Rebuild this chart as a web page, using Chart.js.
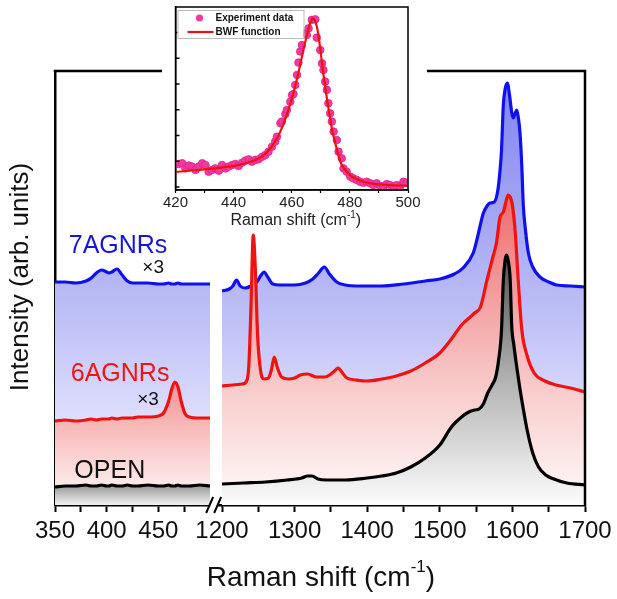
<!DOCTYPE html>
<html>
<head>
<meta charset="utf-8">
<title>Raman spectra of AGNRs</title>
<script src="https://cdn.jsdelivr.net/npm/chart.js@4.4.0/dist/chart.umd.min.js"></script>
<style>
  html, body { margin: 0; padding: 0; background: #fff; }
  #wrap { position: relative; width: 617px; height: 599px; overflow: hidden; }
  #main { position: absolute; left: 0; top: 0; }
  #inset { position: absolute; left: 162px; top: 0; background: #fff; }
</style>
</head>
<body>
<div id="wrap">
  <canvas id="main" width="617" height="599"></canvas>
  <canvas id="inset" width="265" height="232"></canvas>
</div>
<script>
'use strict';

// ---- main panel, low-frequency part (x3) ----
var leftShift = [350, 360, 370, 380, 385, 390, 395, 400, 402, 405, 410, 415, 420, 425, 430, 440, 450, 455, 460, 463, 466, 469, 472, 476, 480, 490, 500];
var blueLeft  = [223, 223, 222, 224, 227, 232, 235, 233, 232, 233, 236, 230, 224, 222, 222, 222, 221, 221, 222, 221, 221, 222, 221, 221, 221, 221, 221];
var redLeft   = [84, 85, 84, 85, 86, 85, 86, 86, 86, 87, 86, 87, 87, 87, 88, 88, 89, 92, 104, 116, 123, 118, 104, 91, 88, 87, 87];
var blackLeft = [18, 19, 19, 20, 19, 19, 20, 19, 19, 20, 19, 19, 20, 19, 19, 20, 19, 19, 20, 19, 19, 20, 19, 19, 19, 20, 19];

// ---- main panel, high-frequency part ----
var blueShiftR = [1200, 1210, 1215, 1220, 1225, 1232, 1240, 1248, 1254, 1258, 1263, 1270, 1280, 1300, 1315, 1325, 1333, 1341, 1348, 1358, 1370, 1390, 1420, 1450, 1480, 1500, 1520, 1532, 1546, 1552, 1560, 1565, 1569, 1575, 1580, 1583, 1585, 1587.5, 1590, 1593, 1596, 1599, 1601, 1604, 1606, 1608, 1610.5, 1613, 1615, 1618, 1622, 1628, 1638, 1650, 1661, 1680, 1700];
var blueRight  = [214, 216, 219, 225, 219, 217, 219, 223, 230, 233, 228, 221, 220, 220, 222, 226, 232, 238, 231, 223, 220, 219, 219, 221, 224, 226, 231, 237, 252, 268, 292, 299, 302, 303, 315, 335, 355, 400, 416, 422, 410, 393, 387, 392, 395, 388, 372, 338, 300, 275, 252, 238, 228, 223, 220, 219, 218];

var redShiftR = [1200, 1215, 1228, 1234, 1237, 1240, 1243, 1246, 1249, 1253, 1258, 1264, 1268, 1272, 1276, 1282, 1292, 1300, 1308, 1318, 1330, 1342, 1350, 1355, 1360, 1365, 1372, 1385, 1400, 1420, 1440, 1460, 1480, 1500, 1516, 1530, 1542, 1548, 1556, 1565, 1572, 1578, 1583, 1587.5, 1591, 1594, 1597, 1600, 1604, 1608, 1613, 1620, 1630, 1645, 1660, 1680, 1700];
var redRight  = [119, 120, 121, 124, 140, 200, 270, 235, 170, 135, 126, 127, 135, 148, 138, 128, 126, 127, 130, 131, 128, 128, 131, 134, 137, 133, 127, 125, 124, 126, 129, 134, 142, 152, 166, 180, 188, 192, 198, 225, 245, 262, 288, 293, 303, 310, 308, 300, 272, 225, 175, 150, 132, 124, 120, 117, 113];

var blackShiftR = [1200, 1230, 1260, 1290, 1310, 1318, 1324, 1332, 1345, 1370, 1400, 1420, 1440, 1460, 1480, 1500, 1516, 1530, 1540, 1548, 1554, 1560, 1566, 1572, 1577, 1581, 1585, 1587.5, 1590, 1592, 1594, 1597, 1599, 1602, 1606, 1610, 1615, 1620, 1628, 1636, 1646, 1657, 1675, 1700];
var blackRight  = [21, 22, 23, 25, 27, 29, 29, 26, 25, 25, 27, 29, 32, 38, 47, 60, 78, 88, 93, 95, 96, 101, 112, 120, 128, 145, 175, 225, 245, 250, 245, 225, 180, 160, 138, 118, 96, 76, 52, 38, 30, 26, 22, 20];

var leftTicks = [350, 375, 400, 425, 450, 475];
var rightTicks = [1200, 1250, 1300, 1350, 1400, 1450, 1500, 1550, 1600, 1650, 1700];

// ---- inset: RBLM of 6AGNRs with BWF fit ----
var expShift = [421.1, 422.3, 423.4, 424.6, 425.7, 426.9, 428.0, 429.2, 430.3, 431.4, 432.6, 433.7, 434.9, 436.0, 437.2, 438.3, 439.5, 440.6, 441.7, 442.9, 444.0, 445.2, 446.3, 447.5, 448.6, 449.8, 450.9, 452.0, 453.2, 454.3, 454.9, 456.1, 456.6, 457.8, 458.3, 459.5, 460.1, 460.6, 461.2, 461.8, 462.3, 462.9, 463.5, 464.6, 465.2, 465.8, 466.9, 468.1, 468.6, 469.8, 470.4, 470.9, 471.5, 472.1, 472.6, 473.2, 473.8, 474.4, 475.5, 476.1, 477.2, 477.8, 478.9, 480.1, 481.2, 482.4, 483.5, 484.7, 485.8, 487.0, 488.1, 489.2, 490.4, 491.5, 492.7, 493.8, 495.0, 496.1, 497.3, 498.4, 499.5];
var expInt   = [0.89, 0.92, 0.72, 0.83, 0.79, 0.66, 0.79, 0.92, 0.85, 0.59, 0.66, 0.72, 0.63, 0.85, 0.72, 0.79, 0.85, 0.89, 0.81, 0.94, 1.02, 1.07, 0.98, 1.05, 1.07, 1.17, 1.24, 1.37, 1.56, 1.76, 1.95, 2.47, 2.54, 2.83, 2.99, 3.31, 3.57, 3.61, 3.96, 4.35, 4.83, 5.26, 5.51, 5.97, 5.90, 6.16, 6.49, 6.51, 5.8, 5.32, 4.80, 4.54, 4.09, 3.77, 3.25, 2.86, 2.54, 2.15, 1.82, 1.37, 1.11, 0.72, 0.59, 0.40, 0.33, 0.27, 0.20, 0.16, 0.20, 0.14, 0.07, 0.14, 0.04, 0.01, 0.11, 0.07, 0.01, 0.07, 0.01, 0.20, 0.16];
var fitShift = [420, 425, 430, 435, 440, 445, 450, 453, 455, 457, 459, 461, 462.5, 464, 465.5, 466.5, 467.2, 468, 469, 470, 471, 472, 473, 474, 475, 476, 477, 478, 480, 483, 486, 490, 495, 500];
var fitInt   = [0.58, 0.63, 0.68, 0.74, 0.82, 0.95, 1.2, 1.55, 1.9, 2.4, 3.05, 3.83, 4.54, 5.32, 6.03, 6.42, 6.55, 6.46, 6.03, 5.19, 4.28, 3.51, 2.80, 2.15, 1.69, 1.24, 0.91, 0.72, 0.46, 0.27, 0.16, 0.10, 0.06, 0.05];
var insetTicks = [420, 430, 440, 450, 460, 470, 480, 490, 500];
var insetYTicks = [0, 1, 2, 3, 4, 5, 6];

var fontFam = '"Liberation Sans", Arial, sans-serif';

function toPoints(xs, ys) {
  return xs.map(function(x, i) { return {x: x, y: ys[i]}; });
}

// vertical gradient, either from the top of the plot or from the top of the curve
function gradFill(stops, fromCurve) {
  return function(c) {
    var chart = c.chart, area = chart.chartArea;
    if (!area) return 'rgba(0,0,0,0)';
    var top = area.top;
    if (fromCurve) {
      var ys = c.dataset.data.map(function(p) { return p.y; });
      top = chart.scales.y.getPixelForValue(Math.max.apply(null, ys));
    }
    var g = chart.ctx.createLinearGradient(0, top, 0, area.bottom);
    stops.forEach(function(s) { g.addColorStop(s[0], s[1]); });
    return g;
  };
}

var blueStops = [[0, 'rgb(126,130,238)'], [0.55, 'rgb(188,190,246)'], [1, 'rgb(248,248,255)']];
var redStopsR = [[0, 'rgb(238,108,108)'], [0.6, 'rgb(248,200,200)'], [1, 'rgb(255,250,250)']];
var redStopsL = [[0, 'rgb(243,148,148)'], [1, 'rgb(255,250,250)']];
var greyStopsR = [[0, 'rgb(80,80,80)'], [0.5, 'rgb(178,178,178)'], [1, 'rgb(252,252,252)']];
var greyStopsL = [[0, 'rgb(150,150,150)'], [1, 'rgb(242,242,242)']];

function spectrum(label, xs, ys, axis, color, fill, order) {
  return {
    label: label,
    data: toPoints(xs, ys),
    xAxisID: axis,
    yAxisID: 'y',
    borderColor: color,
    borderWidth: 3.2,
    backgroundColor: fill,
    fill: 'origin',
    pointRadius: 0,
    cubicInterpolationMode: 'monotone',
    order: order
  };
}

// labels on the spectra, placed in data units of the left panel
var tags = [
  {text: '7AGNRs', x: 411, y: 259, color: '#1515e0', size: 25},
  {text: '\u00d73', x: 445, y: 237, color: '#111', size: 19},
  {text: '6AGNRs', x: 413, y: 131, color: '#ee1515', size: 25},
  {text: '\u00d73', x: 440, y: 105, color: '#111', size: 19},
  {text: 'OPEN', x: 403, y: 34, color: '#111', size: 25}
];

function drawSupTitle(ctx, cx, cy, size, base, sup, tail) {
  var big = size + 'px ' + fontFam, small = Math.round(size * 0.62) + 'px ' + fontFam;
  ctx.font = big; var w1 = ctx.measureText(base).width;
  ctx.font = small; var w2 = ctx.measureText(sup).width;
  ctx.font = big; var w3 = ctx.measureText(tail).width;
  var x = cx - (w1 + w2 + w3) / 2;
  ctx.textAlign = 'left';
  ctx.textBaseline = 'middle';
  ctx.fillText(base, x, cy);
  ctx.font = small; ctx.fillText(sup, x + w1, cy - size * 0.38);
  ctx.font = big; ctx.fillText(tail, x + w1 + w2, cy);
}

var mainDecor = {
  id: 'mainDecor',
  afterDraw: function(chart) {
    var ctx = chart.ctx, a = chart.chartArea;
    var xl = chart.scales.xl, y = chart.scales.y;
    ctx.save();
    // top and right edges of the frame
    ctx.strokeStyle = '#000';
    ctx.lineWidth = 2.5;
    ctx.beginPath();
    ctx.moveTo(a.left - 1.25, a.top);
    ctx.lineTo(a.right, a.top);
    ctx.lineTo(a.right, a.bottom + 1.25);
    ctx.stroke();

    // axis break //
    var bx = xl.getPixelForValue(504);
    ctx.fillStyle = '#fff';
    ctx.fillRect(bx - 4, a.bottom - 3, 8, 6);
    ctx.lineWidth = 2;
    ctx.beginPath();
    ctx.moveTo(bx - 8, a.bottom + 8); ctx.lineTo(bx - 1, a.bottom - 8);
    ctx.moveTo(bx, a.bottom + 8); ctx.lineTo(bx + 7, a.bottom - 8);
    ctx.stroke();

    // spectrum names
    ctx.textAlign = 'center';
    ctx.textBaseline = 'middle';
    tags.forEach(function(t) {
      ctx.font = t.size + 'px ' + fontFam;
      ctx.fillStyle = t.color;
      ctx.fillText(t.text, xl.getPixelForValue(t.x), y.getPixelForValue(t.y));
    });

    // axis titles
    ctx.fillStyle = '#111';
    drawSupTitle(ctx, (a.left + a.right) / 2 + 1, 578, 28, 'Raman shift (cm', '-1', ')');
    ctx.translate(21, 277);
    ctx.rotate(-Math.PI / 2);
    ctx.font = '26px ' + fontFam;
    ctx.textAlign = 'center';
    ctx.fillText('Intensity (arb. units)', 0, 0);
    ctx.restore();
  }
};

function bottomAxis(ticks, min, max, weight, step) {
  return {
    type: 'linear',
    position: 'bottom',
    stack: 'raman',
    stackWeight: weight,
    min: min,
    max: max,
    afterBuildTicks: function(s) { s.ticks = ticks.map(function(v) { return {value: v}; }); },
    afterFit: function(s) { s.height = 94; },
    ticks: {
      autoSkip: false,
      maxRotation: 0,
      padding: 5,
      color: '#111',
      font: {family: fontFam, size: 24},
      callback: function(v) { return v % step === 0 ? String(v) : ''; }
    },
    grid: {drawOnChartArea: false, drawTicks: true, tickLength: 7, tickWidth: 2, tickColor: '#000'},
    border: {display: true, color: '#000', width: 2.5}
  };
}

new Chart(document.getElementById('main'), {
  type: 'line',
  data: {
    datasets: [
      spectrum('7AGNRs x3', leftShift, blueLeft, 'xl', '#1010ee', gradFill(blueStops), 6),
      spectrum('7AGNRs', blueShiftR, blueRight, 'xr', '#1010ee', gradFill(blueStops), 5),
      spectrum('6AGNRs x3', leftShift, redLeft, 'xl', '#f01212', gradFill(redStopsL, true), 4),
      spectrum('6AGNRs', redShiftR, redRight, 'xr', '#f01212', gradFill(redStopsR, true), 3),
      spectrum('OPEN', leftShift, blackLeft, 'xl', '#000', gradFill(greyStopsL, true), 2),
      spectrum('OPEN', blackShiftR, blackRight, 'xr', '#000', gradFill(greyStopsR, true), 1)
    ]
  },
  options: {
    responsive: false,
    animation: false,
    layout: {padding: {left: 0, right: 32, top: 71, bottom: 0}},
    plugins: {legend: {display: false}, tooltip: {enabled: false}},
    scales: {
      xl: bottomAxis(leftTicks, 350, 511.6, 167, 50),
      xr: bottomAxis(rightTicks, 1200, 1700, 363, 100),
      y: {
        type: 'linear',
        min: 0,
        max: 434,
        afterFit: function(s) { s.width = 55; },
        ticks: {display: false},
        grid: {display: false},
        border: {display: true, color: '#000', width: 2.5}
      }
    }
  },
  plugins: [mainDecor]
});

// ---- inset ----
var insetDecor = {
  id: 'insetDecor',
  afterDraw: function(chart) {
    var ctx = chart.ctx, a = chart.chartArea, y = chart.scales.y;
    ctx.save();
    ctx.strokeStyle = '#000';
    ctx.lineWidth = 1.5;
    ctx.strokeRect(a.left, a.top, a.right - a.left, a.bottom - a.top);
    ctx.beginPath();
    insetYTicks.forEach(function(v) {
      var py = y.getPixelForValue(v);
      ctx.moveTo(a.left, py); ctx.lineTo(a.left + 4, py);
    });
    ctx.stroke();

    // legend box
    var lx = a.left + 2, ly = a.top + 3;
    ctx.fillStyle = '#fff';
    ctx.fillRect(lx, ly, 126, 28);
    ctx.strokeStyle = '#bbb';
    ctx.lineWidth = 1;
    ctx.strokeRect(lx + 0.5, ly + 0.5, 126, 28);
    ctx.fillStyle = '#f03a9e';
    ctx.beginPath();
    ctx.arc(lx + 22, ly + 8, 3.6, 0, Math.PI * 2);
    ctx.fill();
    ctx.strokeStyle = '#ee1111';
    ctx.lineWidth = 2.2;
    ctx.beginPath();
    ctx.moveTo(lx + 10, ly + 22); ctx.lineTo(lx + 36, ly + 22);
    ctx.stroke();
    ctx.fillStyle = '#111';
    ctx.font = 'bold 10px ' + fontFam;
    ctx.textAlign = 'left';
    ctx.textBaseline = 'middle';
    ctx.fillText('Experiment data', lx + 38, ly + 8);
    ctx.fillText('BWF function', lx + 38, ly + 22);

    ctx.fillStyle = '#222';
    drawSupTitle(ctx, (a.left + a.right) / 2 + 4, 221, 16, 'Raman shift (cm', '-1', ')');
    ctx.restore();
  }
};

new Chart(document.getElementById('inset'), {
  type: 'line',
  data: {
    datasets: [
      {
        label: 'Experiment data',
        data: toPoints(expShift, expInt),
        showLine: false,
        pointRadius: 3.8,
        pointBackgroundColor: '#f03a9e',
        pointBorderColor: '#e2228a',
        pointBorderWidth: 0.8,
        order: 2
      },
      {
        label: 'BWF function',
        data: toPoints(fitShift, fitInt),
        borderColor: '#ee1111',
        borderWidth: 2.2,
        pointRadius: 0,
        cubicInterpolationMode: 'monotone',
        order: 1
      }
    ]
  },
  options: {
    responsive: false,
    animation: false,
    layout: {padding: {left: 13, right: 19, top: 7, bottom: 0}},
    plugins: {legend: {display: false}, tooltip: {enabled: false}},
    scales: {
      x: {
        type: 'linear',
        min: 420,
        max: 500,
        afterBuildTicks: function(s) { s.ticks = insetTicks.map(function(v) { return {value: v}; }); },
        afterFit: function(s) { s.height = 42; },
        ticks: {
          autoSkip: false,
          maxRotation: 0,
          padding: 1,
          color: '#222',
          font: {family: fontFam, size: 15},
          callback: function(v) { return v % 20 === 0 ? String(v) : ''; }
        },
        grid: {drawOnChartArea: false, tickLength: 3, tickWidth: 1.2, tickColor: '#000'},
        border: {display: true, color: '#000', width: 1.5}
      },
      y: {
        type: 'linear',
        min: -0.12,
        max: 6.99,
        afterFit: function(s) { s.width = 0; },
        ticks: {display: false},
        grid: {display: false},
        border: {display: true, color: '#000', width: 1.5}
      }
    }
  },
  plugins: [insetDecor]
});
</script>
</body>
</html>
